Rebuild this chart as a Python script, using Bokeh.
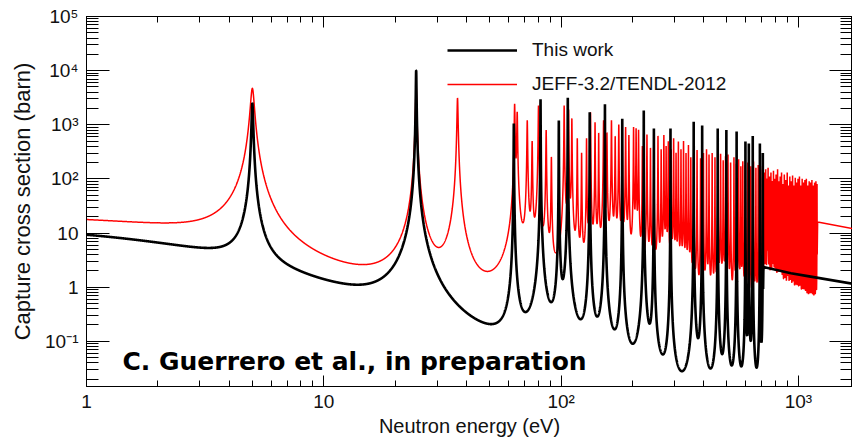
import numpy as np
from bokeh.plotting import figure
from bokeh.models import (Range1d, FixedTicker, LogAxis, CustomJSTickFormatter,
                          Legend, LegendItem, Label)
from bokeh.embed import file_html
from bokeh.resources import INLINE

# ---------------- data ----------------
X_TICKS = [1, 10, 100, 1000]
X_TICK_LABELS = ["1", "10", "10²", "10³"]
Y_TICKS = [0.1, 1, 10, 100, 1000, 10000, 100000]
Y_TICK_LABELS = ["10⁻¹", "1", "10", "10²", "10³", "10⁴", "10⁵"]
MINOR_MANTISSAS = [2, 3, 4, 5, 6, 7, 8, 9]

X_MIN, X_MAX = 1.0, 1690.0
Y_MIN, Y_MAX = 0.0146, 1.0e5

# "This work": resolved resonances (energy eV, peak barn, half width eV)
WORK_RES_E = [-3.0, 5.0, 24.5, 63.2, 81.9, 97.8, 106.7, 132.0, 153.0, 181.0,
              223.0, 246.0, 289.0, 362.0, 393.0, 457.0, 497.0, 549.0, 598.0,
              618.0, 642.0, 688.0, 708.0]
WORK_RES_PEAK = [45, 2500, 10000, 1050, 2950, 1200, 3150, 1700, 2400, 1290,
                 1830, 850, 850, 1130, 970, 850, 800, 750, 490,
                 450, 620, 450, 300]
WORK_RES_HW = [2.0, 0.035, 0.07, 0.075, 0.08, 0.08, 0.08, 0.08, 0.08, 0.09,
               0.10, 0.10, 0.10, 0.11, 0.11, 0.11, 0.11, 0.11, 0.11,
               0.11, 0.11, 0.11, 0.11]
WORK_RES_END = 710.0
WORK_UNRES_E = [712.0, 930.0, 1110.0, 1700.0]
WORK_UNRES_XS = [2.35, 1.80, 1.58, 1.15]

# JEFF-3.2/TENDL-2012: isolated levels
JEFF_LOW_E = [-2.0, 5.0, 24.5, 36.6]
JEFF_LOW_PEAK = [30, 4700, 5000, 3100]
JEFF_LOW_HW = [3.0, 0.09, 0.13, 0.17]
# JEFF-3.2/TENDL-2012: resonance forest
JEFF_FOREST_E = [
    63.7, 65.3, 72.0, 75.5, 80.3, 86.5, 91.0, 103.0, 107.5, 111.0,
    117.0, 122.0, 128.0, 133.0, 139.0, 144.0, 151.0, 156.0, 163.0, 169.0,
    175.0, 181.0, 187.0, 193.0, 202.0, 207.0, 212.0, 220.0, 230.0, 238.0,
    246.0, 256.0, 264.0, 271.0, 277.0, 283.0, 291.0, 298.0, 305.0, 312.0,
    320.0, 328.0, 336.0, 344.0, 352.0, 362.0, 374.0, 387.0, 398.0, 410.0,
    420.0, 433.0, 445.0, 458.0, 470.0, 482.0, 493.0, 505.0, 518.0, 535.0,
    548.0, 560.0, 572.0, 583.0, 597.0, 612.0, 630.0, 647.0, 662.0, 677.0,
    692.0, 706.0, 718.0, 728.0, 738.0, 745.0, 755.0, 766.0, 776.0, 785.0,
    795.0, 805.0, 817.0, 828.0, 838.0, 849.0, 860.0, 872.0, 884.0, 897.0,
    908.0, 920.0, 932.0, 945.0, 957.0, 970.0, 983.0, 996.0, 1010.0, 1023.0,
    1037.0, 1051.0, 1065.0, 1080.0, 1095.0, 1110.0, 1125.0, 1140.0, 1155.0,
    1170.0, 1185.0, 1198.0]
JEFF_FOREST_PEAK = [
    2400, 1700, 1200, 490, 2250, 790, 250, 2250, 1900, 1290,
    560, 300, 560, 1700, 1100, 700, 1200, 700, 1200, 600,
    1000, 450, 900, 640, 900, 850, 800, 400, 660, 370,
    450, 620, 350, 640, 400, 490, 350, 560, 300, 490,
    350, 500, 300, 420, 250, 350, 340, 240, 300, 350,
    280, 300, 250, 260, 290, 220, 260, 280, 200, 250,
    190, 230, 170, 210, 180, 200, 170, 210, 160, 180,
    150, 170, 130, 150, 100, 160, 110, 130, 90, 140,
    100, 120, 150, 90, 110, 130, 80, 120, 95, 130,
    75, 110, 90, 115, 75, 105, 85, 100, 110, 75,
    100, 85, 95, 100, 75, 90, 85, 95, 75,
    85, 90, 80]
JEFF_HW_BAND_EDGES = [150.0, 450.0, 700.0]
JEFF_HW_BANDS = [0.20, 0.30, 0.40, 0.45]
JEFF_RES_END = 1200.0
JEFF_UNRES_E = [1205.0, 1700.0]
JEFF_UNRES_XS = [16.0, 12.0]

# ---------------- build curves ----------------
OFFS = np.array([-60, -30, -15, -8, -5, -3.5, -2.5, -1.8, -1.3, -1.0, -0.7, -0.45,
                 -0.25, -0.1, 0, 0.1, 0.25, 0.45, 0.7, 1.0, 1.3, 1.8, 2.5, 3.5,
                 5, 8, 15, 30, 60])


def resonance_curve(e_res, peak, hw, e_end):
    e_res = np.asarray(e_res, float)
    peak = np.asarray(peak, float)
    hw = np.asarray(hw, float)
    parts = [np.geomspace(X_MIN, e_end, 7000)]
    for e, w in zip(e_res, hw):
        if e > 0:
            parts.append(e + w * OFFS)
    E = np.unique(np.concatenate(parts))
    E = E[(E >= X_MIN) & (E <= e_end)]
    xs = np.zeros_like(E)
    for e, h, w in zip(e_res, peak, hw):
        xs += h / (1.0 + ((E - e) / w) ** 2)
    return E, xs


we, wxs = resonance_curve(WORK_RES_E, WORK_RES_PEAK, WORK_RES_HW, WORK_RES_END)
work_e = np.concatenate([we, WORK_UNRES_E])
work_xs = np.concatenate([wxs, WORK_UNRES_XS])

jeff_forest_hw = [JEFF_HW_BANDS[i] for i in np.digitize(JEFF_FOREST_E, JEFF_HW_BAND_EDGES)]
je, jxs = resonance_curve(JEFF_LOW_E + JEFF_FOREST_E,
                          JEFF_LOW_PEAK + JEFF_FOREST_PEAK,
                          JEFF_LOW_HW + jeff_forest_hw, JEFF_RES_END)
jeff_e = np.concatenate([je, JEFF_UNRES_E])
jeff_xs = np.concatenate([jxs, JEFF_UNRES_XS])

# ---------------- figure ----------------
FONT = "Liberation Sans"
TXT = "#111111"

p = figure(width=852, height=439, x_axis_type="log", y_axis_type="log",
           x_range=Range1d(X_MIN, X_MAX), y_range=Range1d(Y_MIN, Y_MAX),
           output_backend="svg", toolbar_location=None,
           min_border_left=86, min_border_right=0, min_border_top=16,
           min_border_bottom=47)
p.grid.visible = False
p.outline_line_color = "black"
p.outline_line_width = 1
p.background_fill_color = "white"
p.border_fill_color = "white"

jeff_r = p.line(jeff_e, jeff_xs, line_color="#ff0000", line_width=1.5)
work_r = p.line(work_e, work_xs, line_color="#000000", line_width=2.6)

x_minor = [m * 10.0 ** k for k in range(0, 4) for m in MINOR_MANTISSAS]
y_minor = [m * 10.0 ** k for k in range(-2, 5) for m in MINOR_MANTISSAS]

fmt_code = """
const lt = Math.log10(tick);
for (let i = 0; i < tvals.length; i++) {
  if (Math.abs(Math.log10(tvals[i]) - lt) < 1e-6) return tlabels[i];
}
return "";
"""
xfmt = CustomJSTickFormatter(args=dict(tvals=X_TICKS, tlabels=X_TICK_LABELS), code=fmt_code)
yfmt = CustomJSTickFormatter(args=dict(tvals=Y_TICKS, tlabels=Y_TICK_LABELS), code=fmt_code)


def style_axis(ax, ticks, minor, tin, minin, show_labels):
    ax.ticker = FixedTicker(ticks=ticks, minor_ticks=minor)
    ax.major_tick_in = tin
    ax.major_tick_out = 0
    ax.minor_tick_in = minin
    ax.minor_tick_out = 0
    ax.axis_line_color = "black"
    ax.major_tick_line_color = "black"
    ax.minor_tick_line_color = "black"
    ax.axis_line_width = 1
    ax.major_tick_line_width = 1
    ax.minor_tick_line_width = 1
    if not show_labels:
        ax.major_label_text_font_size = "1px"
        ax.major_label_text_alpha = 0
        ax.major_label_standoff = 0


bx = p.xaxis[0]
style_axis(bx, X_TICKS, x_minor, 11, 6, True)
bx.formatter = xfmt
bx.major_label_text_font = FONT
bx.major_label_text_font_size = "19px"
bx.major_label_text_color = TXT
bx.major_label_standoff = 4
bx.axis_label = "Neutron energy (eV)"
bx.axis_label_text_font = FONT
bx.axis_label_text_font_size = "20px"
bx.axis_label_text_font_style = "normal"
bx.axis_label_text_color = TXT
bx.axis_label_standoff = 0

ly = p.yaxis[0]
style_axis(ly, Y_TICKS, y_minor, 23, 12, True)
ly.formatter = yfmt
ly.major_label_text_font = FONT
ly.major_label_text_font_size = "19px"
ly.major_label_text_color = TXT
ly.major_label_standoff = 8
ly.axis_label = "Capture cross section (barn)"
ly.axis_label_text_font = FONT
ly.axis_label_text_font_size = "22px"
ly.axis_label_text_font_style = "normal"
ly.axis_label_text_color = TXT
ly.axis_label_standoff = 7

top = LogAxis()
style_axis(top, X_TICKS, x_minor, 11, 6, False)
p.add_layout(top, "above")
right = LogAxis()
style_axis(right, Y_TICKS, y_minor, 23, 12, False)
p.add_layout(right, "right")

legend = Legend(items=[LegendItem(label="This work", renderers=[work_r]),
                       LegendItem(label="JEFF-3.2/TENDL-2012", renderers=[jeff_r])],
                location=(361, 291), border_line_alpha=0, background_fill_alpha=0,
                glyph_width=70, glyph_height=20, label_standoff=15, spacing=12,
                padding=0, margin=0, label_text_font=FONT,
                label_text_font_size="19px", label_text_color=TXT)
p.add_layout(legend)

p.add_layout(Label(x=36, y=25, x_units="screen", y_units="screen",
                   text="C. Guerrero et al., in preparation",
                   text_baseline="alphabetic", text_font="DejaVu Sans",
                   text_font_style="bold", text_font_size="25px",
                   text_color="#000000"))

open("out.html", "w").write(file_html(p, INLINE))
